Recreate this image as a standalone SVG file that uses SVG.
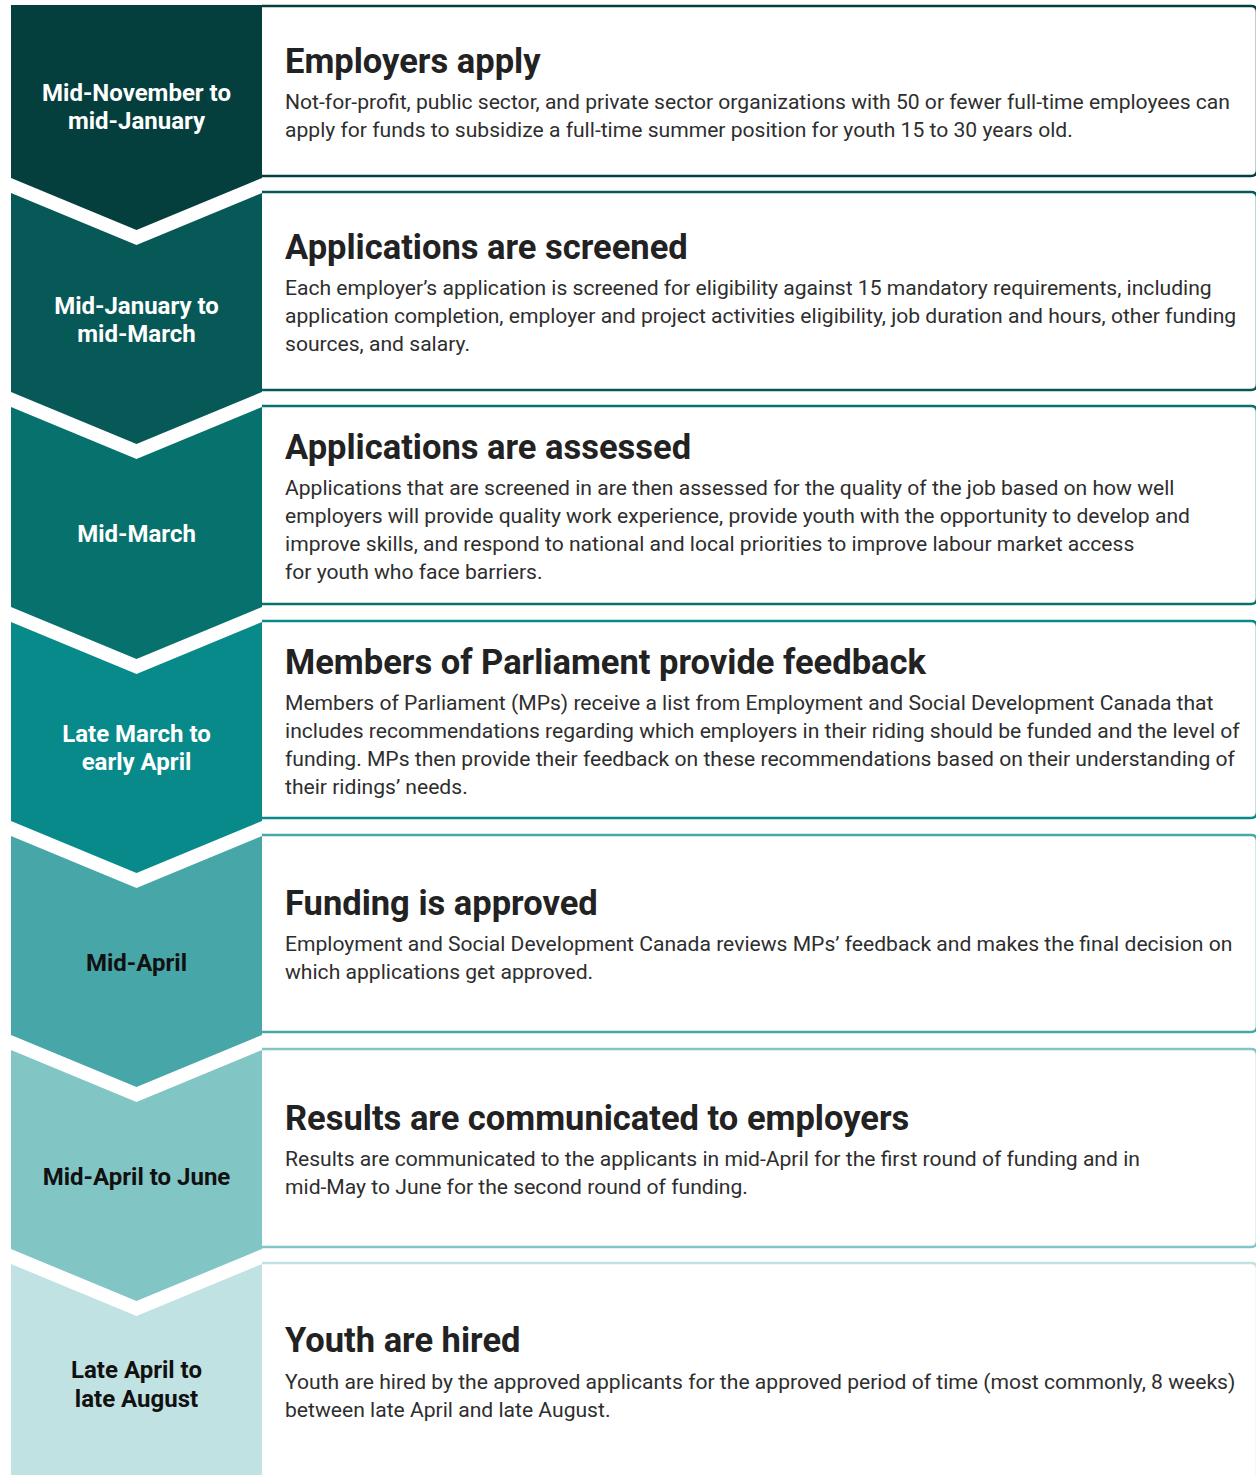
<svg xmlns="http://www.w3.org/2000/svg" width="1256" height="1475" viewBox="0 0 1256 1475">
  <style>
    .box { fill: #ffffff; stroke-width: 2.5; }
    .title { font-family: Roboto, "Liberation Sans", sans-serif; font-weight: 700; font-size: 34.5px; fill: #222222; }
    .body { font-family: Roboto, "Liberation Sans", sans-serif; font-size: 21.1px; fill: #2e2e2e; }
    .when { font-family: Roboto, "Liberation Sans", sans-serif; font-weight: 700; font-size: 24px; text-anchor: middle; }
    .light { fill: #ffffff; }
    .dark { fill: #111111; }
  </style>
  <rect width="1256" height="1475" fill="#ffffff"/>

  <!-- Step 1 -->
  <g id="step1">
    <path class="box" stroke="#053f3d" d="M262,6 H1251 Q1257,6 1257,12 V170 Q1257,176 1251,176 H262"/>
    <path fill="#053f3d" d="M11,5 H262 V178 L136.5,230 L11,178 Z"/>
    <text class="when light" x="136.5" y="101">Mid-November to</text>
    <text class="when light" x="136.5" y="129">mid-January</text>
    <text class="title" x="285" y="73">Employers apply</text>
    <text class="body" x="285" y="109">Not-for-profit, public sector, and private sector organizations with 50 or fewer full-time employees can</text>
    <text class="body" x="285" y="137">apply for funds to subsidize a full-time summer position for youth 15 to 30 years old.</text>
  </g>

  <!-- Step 2 -->
  <g id="step2">
    <path class="box" stroke="#075957" d="M262,192 H1251 Q1257,192 1257,198 V384 Q1257,390 1251,390 H262"/>
    <path fill="#075957" d="M11,193 L136.5,245 L262,193 V392 L136.5,444 L11,392 Z"/>
    <text class="when light" x="136.5" y="314">Mid-January to</text>
    <text class="when light" x="136.5" y="342">mid-March</text>
    <text class="title" x="285" y="259">Applications are screened</text>
    <text class="body" x="285" y="295">Each employer’s application is screened for eligibility against 15 mandatory requirements, including</text>
    <text class="body" x="285" y="323">application completion, employer and project activities eligibility, job duration and hours, other funding</text>
    <text class="body" x="285" y="351">sources, and salary.</text>
  </g>

  <!-- Step 3 -->
  <g id="step3">
    <path class="box" stroke="#07716e" d="M262,406 H1251 Q1257,406 1257,412 V598 Q1257,604 1251,604 H262"/>
    <path fill="#07716e" d="M11,407 L136.5,459 L262,407 V607 L136.5,659 L11,607 Z"/>
    <text class="when light" x="136.5" y="542">Mid-March</text>
    <text class="title" x="285" y="459">Applications are assessed</text>
    <text class="body" x="285" y="495">Applications that are screened in are then assessed for the quality of the job based on how well</text>
    <text class="body" x="285" y="523">employers will provide quality work experience, provide youth with the opportunity to develop and</text>
    <text class="body" x="285" y="551">improve skills, and respond to national and local priorities to improve labour market access</text>
    <text class="body" x="285" y="579">for youth who face barriers.</text>
  </g>

  <!-- Step 4 -->
  <g id="step4">
    <path class="box" stroke="#088a8b" d="M262,621 H1251 Q1257,621 1257,627 V812 Q1257,818 1251,818 H262"/>
    <path fill="#088a8b" d="M11,622 L136.5,674 L262,622 V821 L136.5,873 L11,821 Z"/>
    <text class="when light" x="136.5" y="742">Late March to</text>
    <text class="when light" x="136.5" y="770">early April</text>
    <text class="title" x="285" y="674">Members of Parliament provide feedback</text>
    <text class="body" x="285" y="710">Members of Parliament (MPs) receive a list from Employment and Social Development Canada that</text>
    <text class="body" x="285" y="738">includes recommendations regarding which employers in their riding should be funded and the level of</text>
    <text class="body" x="285" y="766">funding. MPs then provide their feedback on these recommendations based on their understanding of</text>
    <text class="body" x="285" y="794">their ridings’ needs.</text>
  </g>

  <!-- Step 5 -->
  <g id="step5">
    <path class="box" stroke="#46a6a8" d="M262,835 H1251 Q1257,835 1257,841 V1026 Q1257,1032 1251,1032 H262"/>
    <path fill="#46a6a8" d="M11,836 L136.5,888 L262,836 V1035 L136.5,1087 L11,1035 Z"/>
    <text class="when dark" x="136.5" y="971">Mid-April</text>
    <text class="title" x="285" y="915">Funding is approved</text>
    <text class="body" x="285" y="951">Employment and Social Development Canada reviews MPs’ feedback and makes the final decision on</text>
    <text class="body" x="285" y="979">which applications get approved.</text>
  </g>

  <!-- Step 6 -->
  <g id="step6">
    <path class="box" stroke="#81c5c5" d="M262,1049 H1251 Q1257,1049 1257,1055 V1241 Q1257,1247 1251,1247 H262"/>
    <path fill="#81c5c5" d="M11,1050 L136.5,1102 L262,1050 V1249 L136.5,1301 L11,1249 Z"/>
    <text class="when dark" x="136.5" y="1185">Mid-April to June</text>
    <text class="title" x="285" y="1130">Results are communicated to employers</text>
    <text class="body" x="285" y="1166">Results are communicated to the applicants in mid-April for the first round of funding and in</text>
    <text class="body" x="285" y="1194">mid-May to June for the second round of funding.</text>
  </g>

  <!-- Step 7 -->
  <g id="step7">
    <path class="box" stroke="#c1e2e2" d="M262,1263 H1251 Q1257,1263 1257,1269 V1490"/>
    <path fill="#c1e2e2" d="M11,1264 L136.5,1316 L262,1264 V1475 H11 Z"/>
    <text class="when dark" x="136.5" y="1378">Late April to</text>
    <text class="when dark" x="136.5" y="1407">late August</text>
    <text class="title" x="285" y="1352">Youth are hired</text>
    <text class="body" x="285" y="1389">Youth are hired by the approved applicants for the approved period of time (most commonly, 8 weeks)</text>
    <text class="body" x="285" y="1417">between late April and late August.</text>
  </g>

  <!-- no connectors: steps are linked by the chevron shapes -->
  <g id="connectors"/>
</svg>
